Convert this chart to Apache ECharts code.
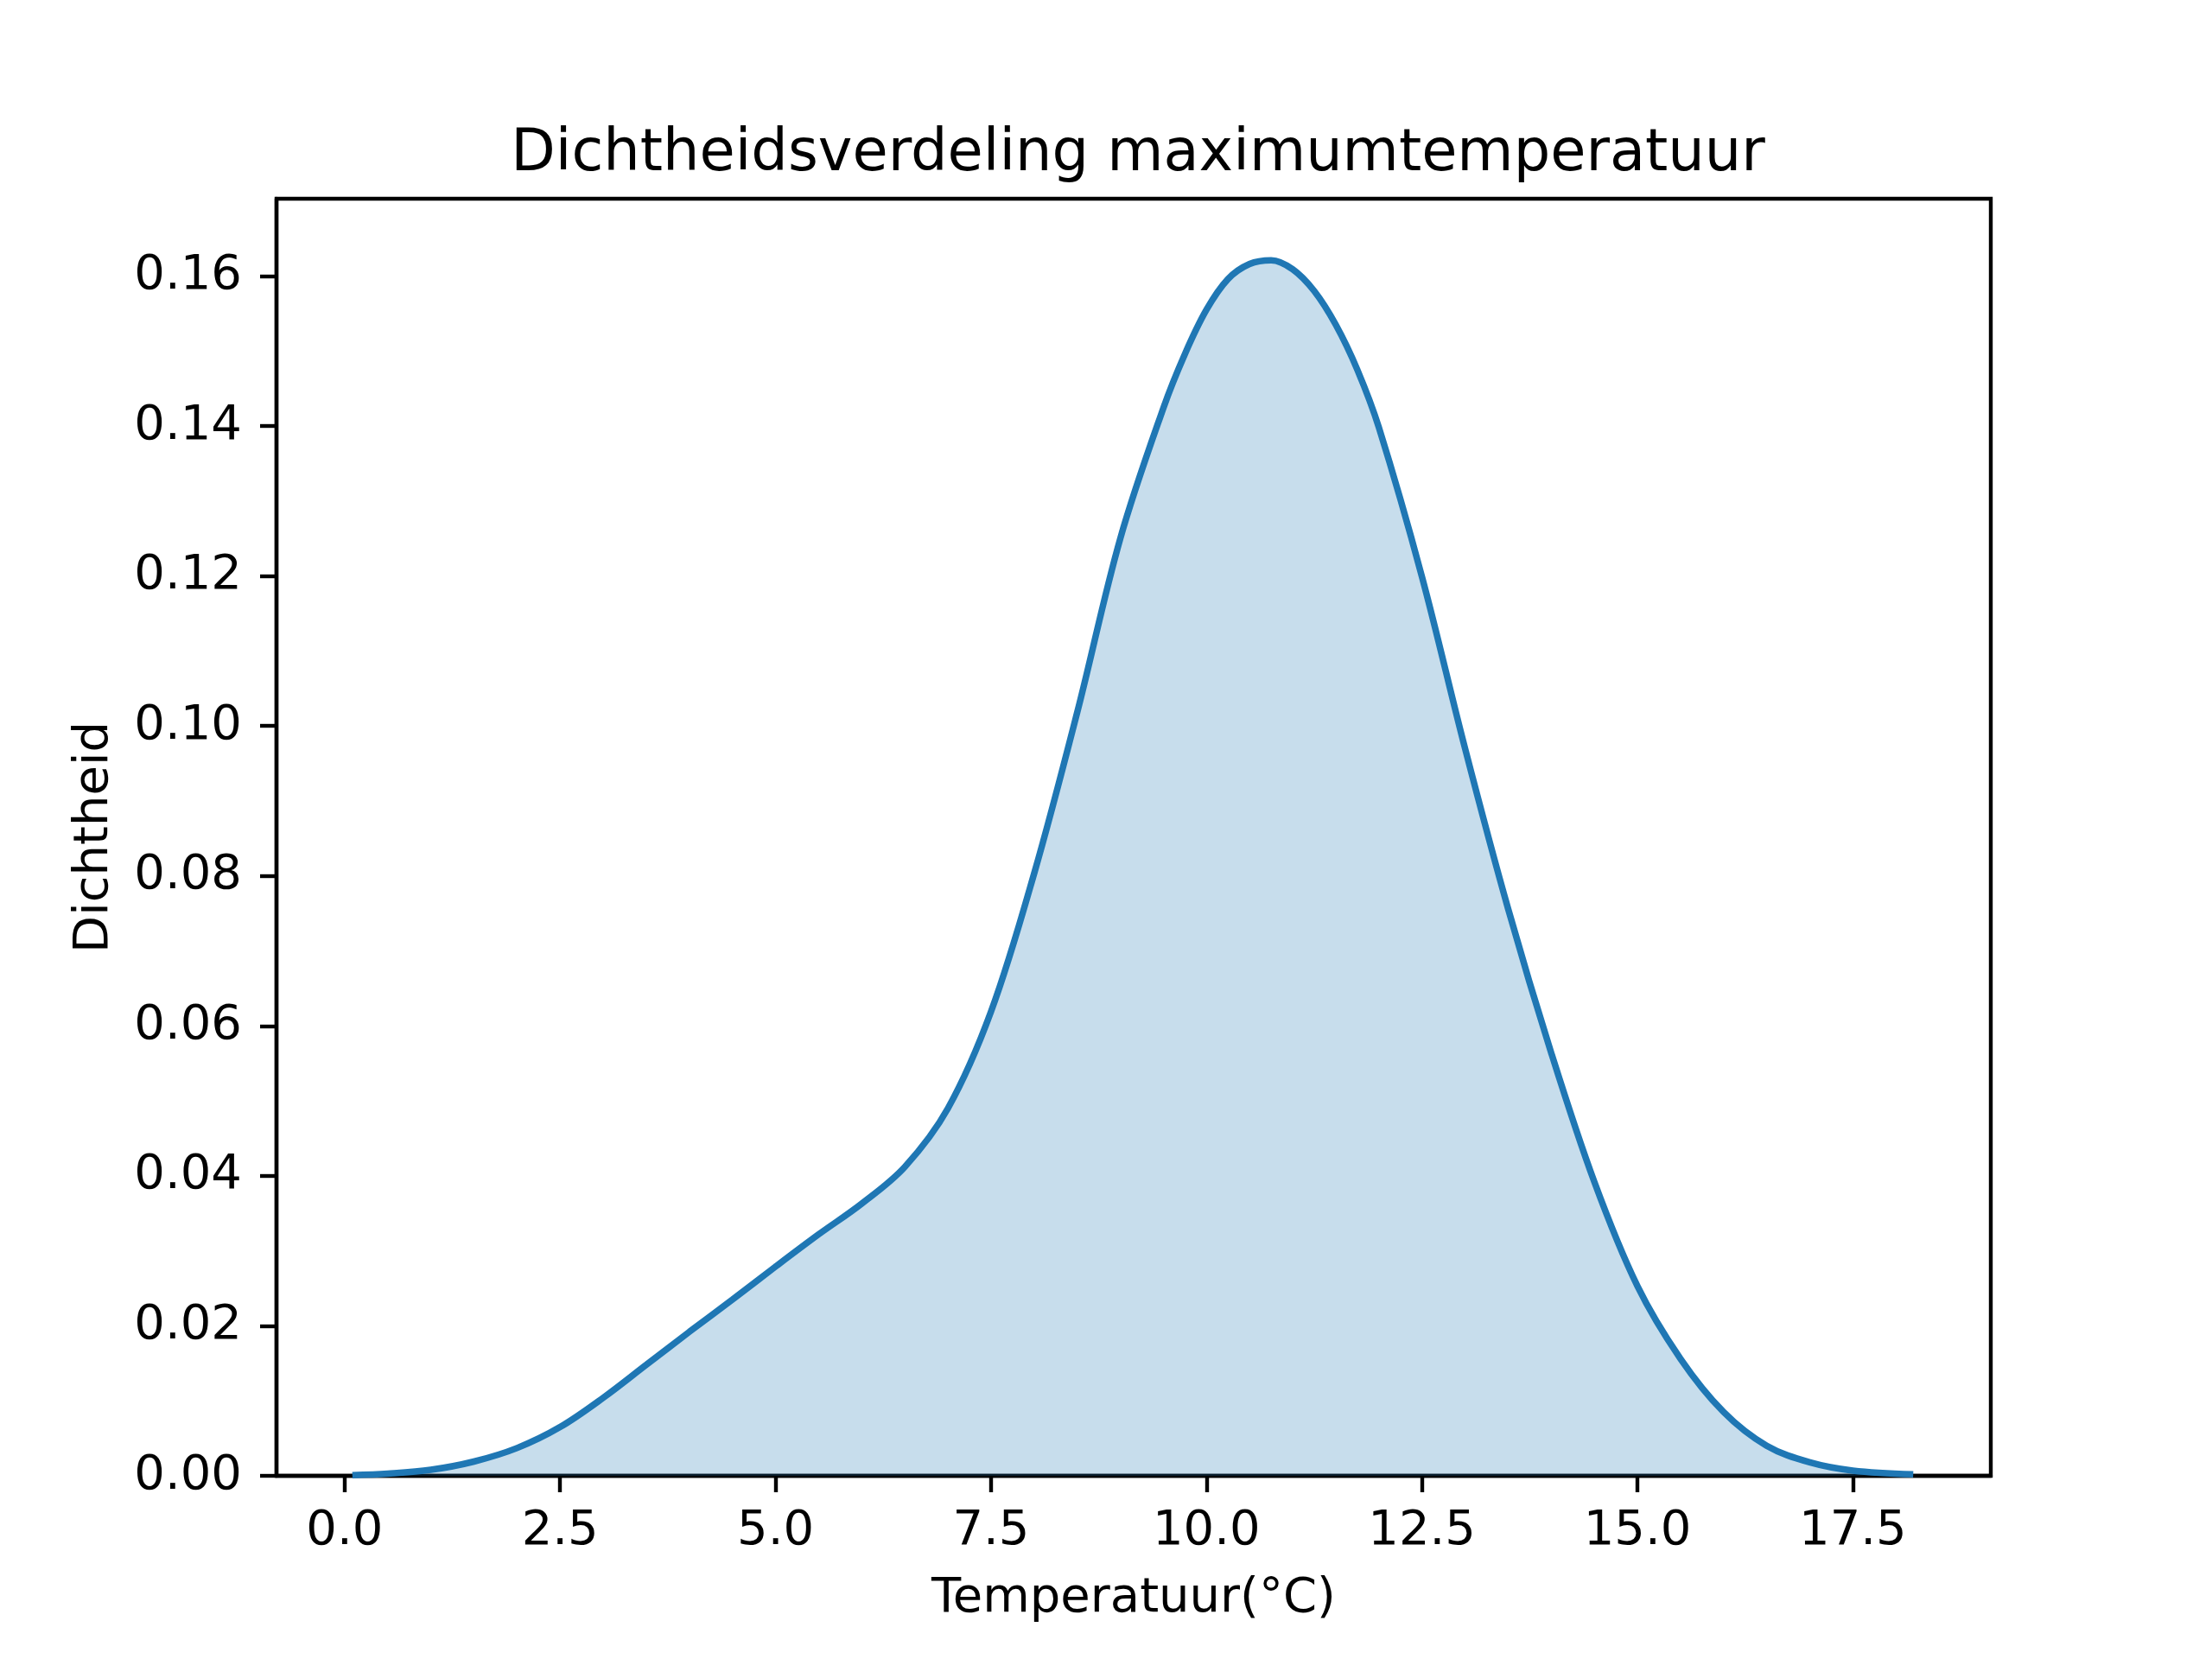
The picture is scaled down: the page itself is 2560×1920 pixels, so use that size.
<!DOCTYPE html>
<html>
<head>
<meta charset="utf-8">
<script src="https://cdn.jsdelivr.net/npm/echarts@6/dist/echarts.min.js"></script>
<style>
  html, body { margin: 0; padding: 0; background: #fff; }
  #chart { width: 2560px; height: 1920px; }
</style>
</head>
<body>
<div id="chart"></div>
<script>
var temps = [0.09, 0.5, 1.0, 1.5, 2.0, 2.5, 3.0, 3.5, 4.0, 4.5, 5.0, 5.5, 6.0, 6.5, 7.0,
  7.5, 8.0, 8.5, 9.0, 9.5, 9.75, 10.0, 10.25, 10.5, 10.75, 11.0, 11.25, 11.5, 11.75, 12.0,
  12.5, 13.0, 13.5, 14.0, 14.5, 15.0, 15.5, 16.0, 16.5, 17.0, 17.5, 18.2];
var density = [0.0001, 0.0003, 0.0008, 0.0019, 0.0037, 0.0065, 0.0104, 0.0148, 0.0192,
  0.0235, 0.0279, 0.0322, 0.0363, 0.0412, 0.0490, 0.0619, 0.0803, 0.1018, 0.1250, 0.1424,
  0.1496, 0.1555, 0.1596, 0.1616, 0.1621, 0.1609, 0.1580, 0.1535, 0.1475, 0.1398,
  0.1199, 0.0970, 0.0756, 0.0564, 0.0392, 0.0253, 0.0156, 0.0085, 0.0040, 0.0018, 0.0007,
  0.0002];
var xTicks = [0, 2.5, 5, 7.5, 10, 12.5, 15, 17.5];
var yTicks = [0, 0.02, 0.04, 0.06, 0.08, 0.10, 0.12, 0.14, 0.16];

var chart = echarts.init(document.getElementById('chart'));

var points = temps.map(function (t, i) { return [t, density[i]]; });

var option = {
  backgroundColor: '#fff',
  animation: false,
  title: {
    text: 'Dichtheidsverdeling maximumtemperatuur',
    left: 1312,
    textAlign: 'center',
    top: 141,
    textStyle: {
      fontFamily: 'DejaVu Sans',
      fontSize: 67,
      fontWeight: 'normal',
      color: '#000'
    }
  },
  grid: {
    left: 320,
    right: 256,
    top: 230,
    bottom: 212,
    show: true,
    borderColor: '#000',
    borderWidth: 4.4,
    backgroundColor: 'transparent'
  },
  xAxis: {
    type: 'value',
    min: -0.79,
    max: 19.1,
    name: 'Temperatuur(°C)',
    nameLocation: 'middle',
    nameGap: 114,
    nameTextStyle: { fontFamily: 'DejaVu Sans', fontSize: 56, color: '#000' },
    splitLine: { show: false },
    axisLine: { show: true, onZero: false, lineStyle: { color: '#000', width: 4.4 } },
    axisTick: {
      show: true, length: 19, customValues: xTicks,
      lineStyle: { color: '#000', width: 4.4 }
    },
    axisLabel: {
      customValues: xTicks,
      margin: 36,
      fontFamily: 'DejaVu Sans',
      fontSize: 56,
      color: '#000',
      formatter: function (v) { return v.toFixed(1); }
    }
  },
  yAxis: {
    type: 'value',
    min: 0,
    max: 0.1703,
    name: 'Dichtheid',
    nameLocation: 'middle',
    nameGap: 183,
    nameTextStyle: { fontFamily: 'DejaVu Sans', fontSize: 56, color: '#000' },
    splitLine: { show: false },
    axisLine: { show: true, onZero: false, lineStyle: { color: '#000', width: 4.4 } },
    axisTick: {
      show: true, length: 19, customValues: yTicks,
      lineStyle: { color: '#000', width: 4.4 }
    },
    axisLabel: {
      customValues: yTicks,
      margin: 40,
      fontFamily: 'DejaVu Sans',
      fontSize: 56,
      color: '#000',
      formatter: function (v) { return v.toFixed(2); }
    }
  },
  series: [{
    type: 'line',
    data: points,
    showSymbol: false,
    symbol: 'none',
    smooth: 0.35,
    lineStyle: { color: '#1f77b4', width: 7.5 },
    areaStyle: { color: '#1f77b4', opacity: 0.25, origin: 'start' },
    z: 1
  }]
};

chart.setOption(option);
</script>
</body>
</html>
